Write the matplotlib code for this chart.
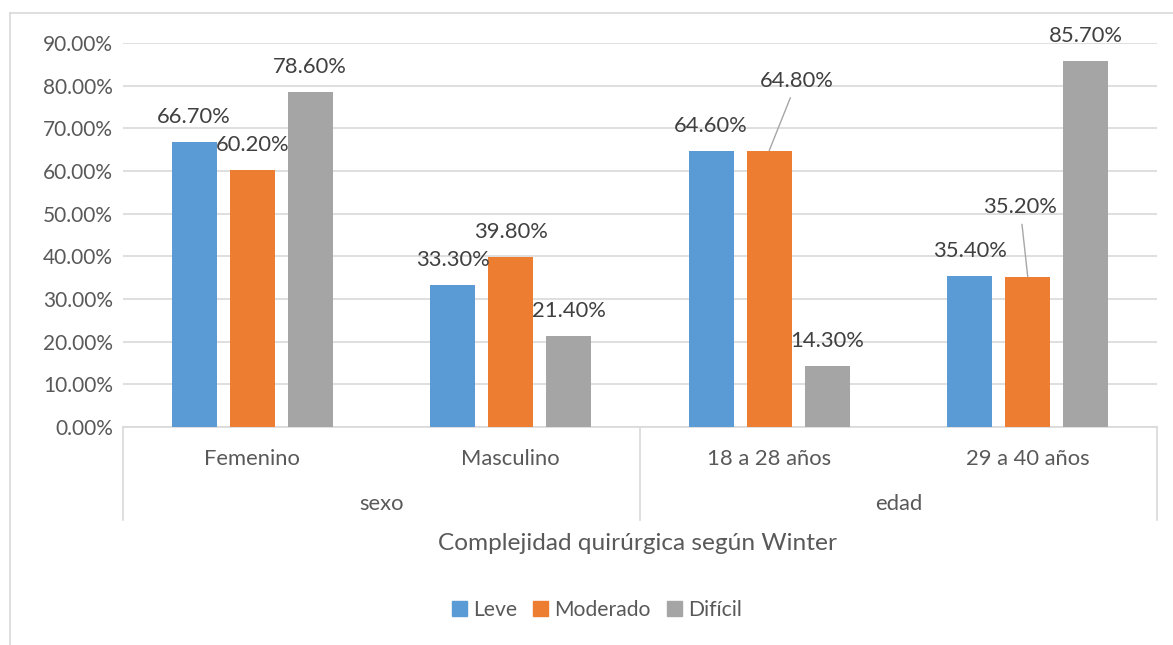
import numpy as np
import matplotlib.pyplot as plt
from matplotlib.lines import Line2D
from matplotlib.patches import Patch
from matplotlib.ticker import FuncFormatter

plt.rcParams["font.family"] = ["Lato", "DejaVu Sans"]

categories = ["Femenino", "Masculino", "18 a 28 años", "29 a 40 años"]
groups = ["sexo", "edad"]
series = ["Leve", "Moderado", "Difícil"]
leve = [66.7, 33.3, 64.6, 35.4]
moderado = [60.2, 39.8, 64.8, 35.2]
dificil = [78.6, 21.4, 14.3, 85.7]
axis_title = "Complejidad quirúrgica según Winter"

colors = ["#5B9BD5", "#ED7D31", "#A5A5A5"]
TXT = "#595959"
LBL = "#404040"
GRID = "#D9D9D9"
FS = 15.2

W, H = 1173, 645
fig = plt.figure(figsize=(W / 100, H / 100), dpi=100)


def px(x, y):
    return x / W, 1 - y / H


# outer chart frame (only top/left edges are in view)
fig.add_artist(Line2D([10 / W, 10 / W], [0, 1 - 13 / H], color=GRID, lw=1.2))
fig.add_artist(Line2D([10 / W, 1], [1 - 13 / H, 1 - 13 / H], color=GRID, lw=1.2))

left, right, top, bottom = 123, 1157, 43, 427
ax = fig.add_axes([left / W, 1 - bottom / H, (right - left) / W, (bottom - top) / H])

n = len(categories)
x = np.arange(n) + 0.5
pitch = 0.2245
width = 0.174
all_vals = [leve, moderado, dificil]
for i, (name, vals, c) in enumerate(zip(series, all_vals, colors)):
    ax.bar(x + (i - 1) * pitch, vals, width, color=c, label=name, zorder=3)

ax.set_xlim(0, n)
ax.set_ylim(0, 90)
ax.set_yticks(np.arange(0, 91, 10))
ax.yaxis.set_major_formatter(FuncFormatter(lambda v, _: f"{v:.2f}%"))
ax.tick_params(axis="y", length=0, pad=7, labelsize=FS - 0.2, labelcolor=TXT)
ax.set_xticks([])
ax.grid(axis="y", color=GRID, lw=1.2, zorder=0)
for s in ["top", "right", "left"]:
    ax.spines[s].set_visible(False)
ax.spines["bottom"].set_color(GRID)
ax.spines["bottom"].set_linewidth(1.2)

# value labels; two of them are pulled away from the bar with a leader line
moved = {(1, 2): (20, 50), (1, 3): (-5.5, 50)}
for i, vals in enumerate(all_vals):
    for j, v in enumerate(vals):
        bx = x[j] + (i - 1) * pitch
        if (i, j) in moved:
            ax.annotate(f"{v:.2f}%", xy=(bx, v), xytext=moved[(i, j)],
                        textcoords="offset points", ha="center", va="center",
                        fontsize=FS + 0.6, color=LBL,
                        arrowprops=dict(arrowstyle="-", color="#A6A6A6", lw=1,
                                        shrinkA=3, shrinkB=0))
        else:
            ax.annotate(f"{v:.2f}%", xy=(bx, v), xytext=(0, 18),
                        textcoords="offset points", ha="center", va="center",
                        fontsize=FS + 0.6, color=LBL)

# two-level category axis
box_bottom = 520
trans = ax.get_xaxis_transform()
y_box = -(box_bottom - bottom) / (bottom - top)
for xv in [0, n / 2, n]:
    ax.plot([xv, xv], [0, y_box], transform=trans, color=GRID, lw=1.2, clip_on=False)
y_cat = -(459 - bottom) / (bottom - top)
for xv, lab in zip(x, categories):
    ax.text(xv, y_cat, lab, transform=trans, ha="center", va="center",
            fontsize=FS + 0.6, color=TXT)
y_grp = -(504 - bottom) / (bottom - top)
for k, lab in enumerate(groups):
    ax.text(k * n / 2 + n / 4, y_grp, lab, transform=trans, ha="center",
            va="center", fontsize=FS + 0.6, color=TXT)

fig.text(*px(638, 543), axis_title, ha="center", va="center", fontsize=17.6, color=TXT)

handles = [Patch(color=c, label=s) for s, c in zip(series, colors)]
fig.legend(handles=handles, loc="center", bbox_to_anchor=px(597, 610), ncol=3,
           frameon=False, fontsize=FS, labelcolor=TXT, handlelength=0.7,
           handleheight=0.7, handletextpad=0.3, columnspacing=0.75)

fig.savefig("out.png", dpi=100)
